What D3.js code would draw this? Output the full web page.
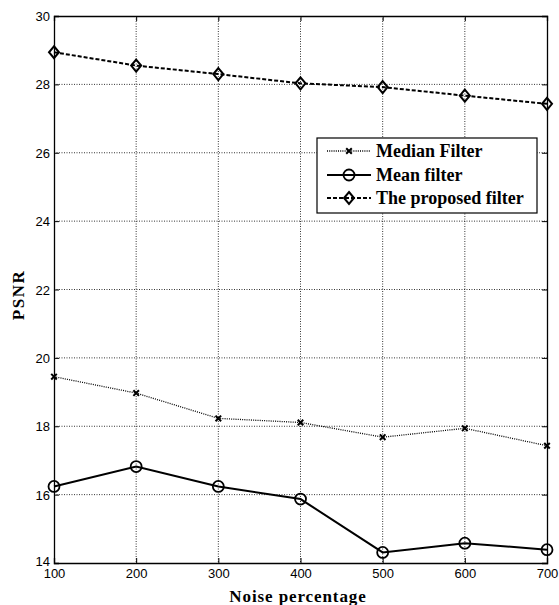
<!DOCTYPE html>
<html><head><meta charset="utf-8">
<script src="https://cdn.jsdelivr.net/npm/d3@7"></script>
<style>body{margin:0;background:#fff}</style>
</head><body>
<svg id="c" width="559" height="605"></svg>
<script>
const noise = [100, 200, 300, 400, 500, 600, 700];
const medianFilter = [19.45, 18.97, 18.23, 18.11, 17.68, 17.94, 17.43];
const meanFilter = [16.24, 16.82, 16.24, 15.87, 14.31, 14.58, 14.39];
const proposedFilter = [28.94, 28.55, 28.30, 28.03, 27.92, 27.67, 27.43];
const xTicks = [100, 200, 300, 400, 500, 600, 700];
const yTicks = [14, 16, 18, 20, 22, 24, 26, 28, 30];
const seriesNames = ["Median Filter", "Mean filter", "The proposed filter"];

const svg = d3.select("#c");
const L = 54, R = 547, T = 16, B = 563;
const x = d3.scaleLinear().domain([100, 700]).range([L, R]);
const y = d3.scaleLinear().domain([14, 30]).range([B, T]);
const serif = "Liberation Serif, Times New Roman, serif";

// grid
const g = svg.append("g");
g.selectAll(".vg").data(xTicks.slice(1, -1)).join("line")
  .attr("x1", d => x(d)).attr("x2", d => x(d)).attr("y1", T).attr("y2", B)
  .attr("stroke", "#000").attr("stroke-width", 0.8).attr("stroke-dasharray", "1,1.5");
g.selectAll(".hg").data(yTicks.slice(1, -1)).join("line")
  .attr("x1", L).attr("x2", R).attr("y1", d => y(d)).attr("y2", d => y(d))
  .attr("stroke", "#000").attr("stroke-width", 0.8).attr("stroke-dasharray", "1,1.5");

// axes
const xAxis = d3.axisBottom(x).tickValues(xTicks).tickSize(-5).tickPadding(8);
const yAxis = d3.axisLeft(y).tickValues(yTicks).tickSize(-5).tickPadding(4);
const xa = svg.append("g").attr("transform", `translate(0,${B})`).call(xAxis);
const ya = svg.append("g").attr("transform", `translate(${L},0)`).call(yAxis);
const xt = svg.append("g").attr("transform", `translate(0,${T})`).call(d3.axisTop(x).tickValues(xTicks).tickSize(-5).tickFormat(""));
const yr = svg.append("g").attr("transform", `translate(${R},0)`).call(d3.axisRight(y).tickValues(yTicks).tickSize(-5).tickFormat(""));
[xa, ya, xt, yr].forEach(a => {
  a.select(".domain").attr("stroke", "#000").attr("stroke-width", 1.3);
  a.selectAll(".tick line").attr("stroke", "#000");
  a.selectAll("text").attr("font-family", "Liberation Sans, Arial, sans-serif").attr("font-size", 13).attr("fill", "#000");
});
ya.selectAll(".tick text").attr("dy", "0.35em");
xa.selectAll(".tick text").attr("dy", "0.55em");
ya.selectAll(".tick").filter(d => d === 14).select("text").attr("dy", "0.2em");

// lines
const line = d3.line().x((d, i) => x(noise[i])).y(d => y(d));
svg.append("path").datum(medianFilter).attr("d", line).attr("fill", "none")
  .attr("stroke", "#000").attr("stroke-width", 1.3).attr("stroke-dasharray", "1,1.2");
svg.append("path").datum(meanFilter).attr("d", line).attr("fill", "none")
  .attr("stroke", "#000").attr("stroke-width", 2);
svg.append("path").datum(proposedFilter).attr("d", line).attr("fill", "none")
  .attr("stroke", "#000").attr("stroke-width", 2).attr("stroke-dasharray", "4,2");

function starMarker(sel, cx, cy) {
  sel.append("path").attr("d", d3.symbol().type(d3.symbolX).size(22)())
    .attr("transform", `translate(${cx},${cy})`).attr("stroke", "#000").attr("stroke-width", 2).attr("fill", "none");
}
function circleMarker(sel, cx, cy) {
  sel.append("circle").attr("cx", cx).attr("cy", cy).attr("r", 5.5)
    .attr("fill", "none").attr("stroke", "#000").attr("stroke-width", 1.8);
}
function diamondMarker(sel, cx, cy) {
  sel.append("path").attr("d", `M0,-6L5,0L0,6L-5,0Z`)
    .attr("transform", `translate(${cx},${cy})`).attr("fill", "none").attr("stroke", "#000").attr("stroke-width", 2);
}
const mg = svg.append("g");
medianFilter.forEach((v, i) => starMarker(mg, x(noise[i]), y(v)));
meanFilter.forEach((v, i) => circleMarker(mg, x(noise[i]), y(v)));
proposedFilter.forEach((v, i) => diamondMarker(mg, x(noise[i]), y(v)));

// legend
const lg = svg.append("g");
lg.append("rect").attr("x", 317).attr("y", 138).attr("width", 220).attr("height", 75)
  .attr("fill", "#fff").attr("stroke", "#000").attr("stroke-width", 1.2);
const rows = [151, 175, 198];
const styles = [
  {w: 1.3, dash: "1,1.2", m: starMarker},
  {w: 2, dash: null, m: circleMarker},
  {w: 2, dash: "4,2", m: diamondMarker}
];
seriesNames.forEach((n, i) => {
  const l = lg.append("line").attr("x1", 327).attr("x2", 371).attr("y1", rows[i]).attr("y2", rows[i])
    .attr("stroke", "#000").attr("stroke-width", styles[i].w);
  if (styles[i].dash) l.attr("stroke-dasharray", styles[i].dash);
  styles[i].m(lg, 349, rows[i]);
  lg.append("text").attr("x", 376).attr("y", rows[i]).attr("dy", "0.35em")
    .attr("font-family", serif).attr("font-weight", "bold")
    .attr("font-size", 18).text(n);
});

// axis titles
svg.append("text").attr("x", 298).attr("y", 602).attr("text-anchor", "middle")
  .attr("font-family", serif).attr("font-weight", "bold").attr("letter-spacing", 0.9)
  .attr("font-size", 17).text("Noise percentage");
svg.append("text").attr("transform", `translate(24,295) rotate(-90)`).attr("text-anchor", "middle")
  .attr("font-family", serif).attr("font-weight", "bold").attr("letter-spacing", 1.5)
  .attr("font-size", 17).text("PSNR");
</script>
</body></html>
